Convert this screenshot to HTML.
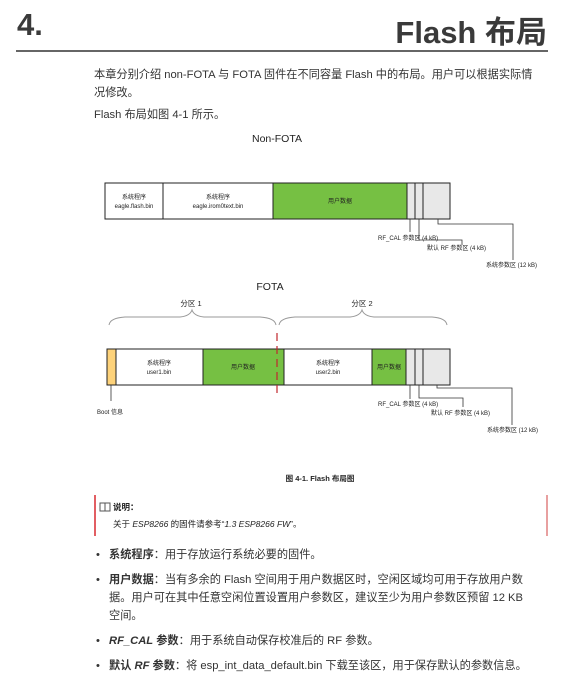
<!DOCTYPE html>
<html><head><meta charset="utf-8"><style>
body{margin:0;width:580px;height:692px;background:#fff;position:relative;font-family:"Liberation Sans","Noto Sans CJK SC",sans-serif;color:#333;overflow:hidden}
.a{position:absolute;white-space:nowrap}
.p{font-size:11.2px;line-height:18px}
</style></head><body>
<div class="a" style="left:17px;top:7px;font-size:31px;font-weight:bold;color:#3a3a3a">4.</div>
<div class="a" style="right:33px;top:7px;font-size:31px;font-weight:bold;color:#3a3a3a">Flash 布局</div>
<div class="a" style="left:16px;top:50px;width:532px;height:2px;background:#666"></div>
<div class="a p" style="left:94px;top:66px">本章分别介绍 non-FOTA 与 FOTA 固件在不同容量 Flash 中的布局。用户可以根据实际情</div>
<div class="a p" style="left:94px;top:84px">况修改。</div>
<div class="a p" style="left:94px;top:106px">Flash 布局如图 4-1 所示。</div>

<svg class="a" style="left:0;top:0" width="580" height="692" font-family="Liberation Sans,Noto Sans CJK SC,sans-serif">
<g font-size="10.5" fill="#222" text-anchor="middle">
<text x="277" y="142">Non-FOTA</text><text x="270" y="290">FOTA</text>
</g>
<g stroke="#222" stroke-width="1">
<rect x="105" y="183" width="168" height="36" fill="#fff"/>
<rect x="273" y="183" width="134" height="36" fill="#76c043"/>
<rect x="407" y="183" width="43" height="36" fill="#e8e8e8"/>
<line x1="163" y1="183" x2="163" y2="219"/><line x1="415" y1="183" x2="415" y2="219"/><line x1="423" y1="183" x2="423" y2="219"/>
</g>
<g fill="none" stroke="#333" stroke-width="0.8">
<polyline points="410,219 410,232"/>
<polyline points="419,219 419,240 462,240 462,245"/>
<polyline points="438,219 438,224 513,224 513,260"/>
</g>
<g font-size="6" fill="#222" text-anchor="middle">
<text x="134" y="199">系统程序</text><text x="134" y="208">eagle.flash.bin</text>
<text x="218" y="199">系统程序</text><text x="218" y="208">eagle.irom0text.bin</text>
<text x="340" y="203">用户数据</text>
</g>
<g font-size="6" fill="#222">
<text x="378" y="240">RF_CAL 参数区 (4 kB)</text>
<text x="427" y="250">默认 RF 参数区 (4 kB)</text>
<text x="486" y="267">系统参数区 (12 kB)</text>
</g>
<g fill="none" stroke="#999" stroke-width="1">
<path d="M109,325 Q110,318 125,317 L180,317 Q190,316 192,310 Q194,316 204,317 L260,317 Q275,318 276,325"/>
<path d="M279,325 Q280,318 295,317 L350,317 Q360,316 362,310 Q364,316 374,317 L432,317 Q446,318 447,325"/>
</g>
<g font-size="7.5" fill="#222" text-anchor="middle"><text x="191" y="306">分区 1</text><text x="362" y="306">分区 2</text></g>
<g stroke="#222" stroke-width="1">
<rect x="107" y="349" width="343" height="36" fill="#fff"/>
<rect x="107" y="349" width="9" height="36" fill="#fdd27a"/>
<rect x="203" y="349" width="81" height="36" fill="#76c043"/>
<rect x="372" y="349" width="34" height="36" fill="#76c043"/>
<rect x="406" y="349" width="44" height="36" fill="#e8e8e8"/>
<line x1="415" y1="349" x2="415" y2="385"/><line x1="423" y1="349" x2="423" y2="385"/>
</g>
<line x1="277" y1="333" x2="277" y2="398" stroke="#c0272d" stroke-width="1.2" stroke-dasharray="8,5"/>
<g fill="none" stroke="#333" stroke-width="0.8">
<polyline points="111,385 111,401"/>
<polyline points="410,385 410,399"/>
<polyline points="419,385 419,398 463,398 463,407"/>
<polyline points="437,385 437,388 512,388 512,425"/>
</g>
<g font-size="6" fill="#222" text-anchor="middle">
<text x="159" y="365">系统程序</text><text x="159" y="374">user1.bin</text>
<text x="243" y="369">用户数据</text>
<text x="328" y="365">系统程序</text><text x="328" y="374">user2.bin</text>
<text x="389" y="369">用户数据</text>
</g>
<g font-size="6" fill="#222">
<text x="97" y="414">Boot 信息</text>
<text x="378" y="406">RF_CAL 参数区 (4 kB)</text>
<text x="431" y="415">默认 RF 参数区 (4 kB)</text>
<text x="487" y="432">系统参数区 (12 kB)</text>
</g>
<text x="320" y="481" font-size="7.5" font-weight="bold" fill="#222" text-anchor="middle">图 4-1. Flash 布局图</text>
<line x1="95" y1="495" x2="95" y2="536" stroke="#d8282f" stroke-width="1.5"/>
<line x1="547" y1="495" x2="547" y2="536" stroke="#e08080" stroke-width="1.5"/>
<rect x="100" y="503" width="10" height="8" fill="none" stroke="#555" stroke-width="1"/><line x1="105" y1="503" x2="105" y2="511" stroke="#555"/>
</svg>
<div class="a" style="left:113px;top:501px;font-size:8.5px;font-weight:bold;color:#222">说明：</div>
<div class="a" style="left:113px;top:518px;font-size:8.5px;color:#222">关于 <i>ESP8266</i> 的固件请参考“<i>1.3 ESP8266 FW</i>”。</div>

<div class="a p" style="left:96px;top:546px">•</div><div class="a p" style="left:109px;top:546px"><b>系统程序</b>：用于存放运行系统必要的固件。</div>
<div class="a p" style="left:96px;top:571px">•</div><div class="a p" style="left:109px;top:571px"><b>用户数据</b>：当有多余的 Flash 空间用于用户数据区时，空闲区域均可用于存放用户数</div>
<div class="a p" style="left:109px;top:589px">据。用户可在其中任意空闲位置设置用户参数区，建议至少为用户参数区预留 12 KB</div>
<div class="a p" style="left:109px;top:607px">空间。</div>
<div class="a p" style="left:96px;top:632px">•</div><div class="a p" style="left:109px;top:632px"><b><i>RF_CAL</i> 参数</b>：用于系统自动保存校准后的 RF 参数。</div>
<div class="a p" style="left:96px;top:657px">•</div><div class="a p" style="left:109px;top:657px"><b>默认 <i>RF</i> 参数</b>：将 esp_int_data_default.bin 下载至该区，用于保存默认的参数信息。</div>
</body></html>
